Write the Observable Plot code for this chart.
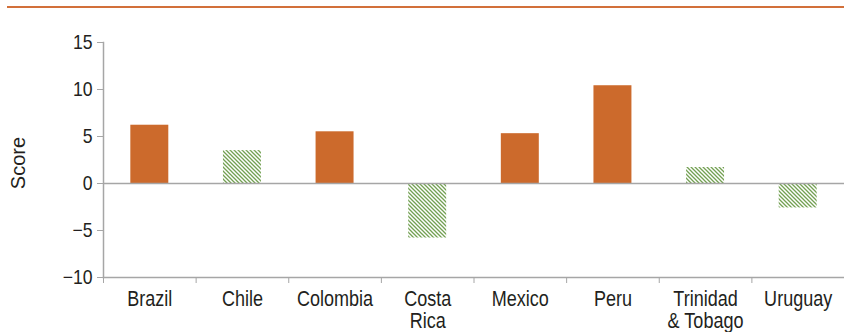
<!DOCTYPE html>
<html>
<head>
<meta charset="utf-8">
<script src="https://cdn.jsdelivr.net/npm/d3@7"></script>
<script src="https://cdn.jsdelivr.net/npm/@observablehq/plot@0.6"></script>
<style>
  html, body { margin: 0; padding: 0; background: #fff; }
  #wrap { position: relative; width: 844px; height: 332px; overflow: hidden; }
  #topline { position: absolute; top: 6px; left: 7px; right: 0; height: 2px; background: #d2703a; }
</style>
</head>
<body>
<div id="wrap"><div id="topline"></div></div>
<script>
const categories = ["Brazil", "Chile", "Colombia", "Costa Rica", "Mexico", "Peru", "Trinidad & Tobago", "Uruguay"];
const categoryLabels = ["Brazil", "Chile", "Colombia", "Costa\nRica", "Mexico", "Peru", "Trinidad\n& Tobago", "Uruguay"];
const scores = [6.2, 3.5, 5.5, -5.8, 5.3, 10.4, 1.7, -2.6];
const significant = [true, false, true, false, true, true, false, false];
const yTicks = [-10, -5, 0, 5, 10, 15];
const yTitle = ["Score"];

const data = categories.map((c, i) => ({category: c, score: scores[i], sig: significant[i]}));
const labelOf = new Map(categories.map((c, i) => [c, categoryLabels[i]]));

const FONT = "'Liberation Sans', Arial, Helvetica, sans-serif";
const AXIS = "#a6a6a6";

const chart = Plot.plot({
  width: 844,
  height: 332,
  marginTop: 42,
  marginBottom: 55,
  marginLeft: 103,
  marginRight: 0,
  style: {fontFamily: FONT, fontSize: "20px", color: "#231f20", background: "transparent"},
  x: {domain: categories, paddingInner: 0.59, paddingOuter: 0.295, round: false, label: null},
  y: {domain: [-10, 15], ticks: yTicks, label: null},
  marks: [
    Plot.barY(data.filter(d => d.sig), {x: "category", y: "score", fill: "#cc6a2c"}),
    Plot.barY(data.filter(d => !d.sig), {x: "category", y: "score", fill: "url(#hatch)"}),
    Plot.ruleY([0], {stroke: AXIS, strokeWidth: 1.5}),
    Plot.axisY({ticks: yTicks, tickSize: 6, tickPadding: 5, stroke: AXIS, fontSize: 20, label: null}),
    Plot.axisX({tickSize: 0, tickPadding: 13, fontSize: 22, tickFormat: d => labelOf.get(d), label: null}),
    Plot.axisX({tickSize: 6, text: null, dx: -46.31, stroke: AXIS, label: null}),
    Plot.frame({anchor: "left", stroke: AXIS, strokeWidth: 1.5}),
    Plot.frame({anchor: "bottom", stroke: AXIS, strokeWidth: 1.5}),
    Plot.text(yTitle, {text: d => d, frameAnchor: "left", textAnchor: "middle", lineAnchor: "middle",
      dx: -85, dy: 3, rotate: -90, fontSize: 20, fill: "#231f20", ariaLabel: "y-title"})
  ]
});

// Hatch pattern for the non-significant bars
const ns = "http://www.w3.org/2000/svg";
const defs = document.createElementNS(ns, "defs");
defs.innerHTML = `<pattern id="hatch" patternUnits="userSpaceOnUse" width="4" height="4">
  <rect width="4" height="4" fill="#ffffff"/>
  <path d="M-1,-1 l6,6 M-1,3 l2,2 M3,-1 l2,2" stroke="#73a052" stroke-width="1.3"/>
</pattern>`;
chart.insertBefore(defs, chart.firstChild);

// Condensed lettering, as in the reference (horizontal squeeze about each text's anchor)
const squeeze = {"y-axis tick label": 0.88, "x-axis tick label": 0.82, "y-title": 0.8};
chart.querySelectorAll("text").forEach(t => {
  const g = t.closest("g[aria-label]");
  const key = g ? g.getAttribute("aria-label") : "";
  const s = squeeze[key];
  if (!s) return;
  const x = parseFloat(t.getAttribute("x")) || 0;
  const tr = t.getAttribute("transform") || "";
  t.setAttribute("transform", `${tr} translate(${x},0) scale(${s},1) translate(${-x},0)`.trim());
});

chart.style.position = "absolute";
chart.style.left = "0";
chart.style.top = "0";
document.getElementById("wrap").appendChild(chart);
</script>
</body>
</html>
